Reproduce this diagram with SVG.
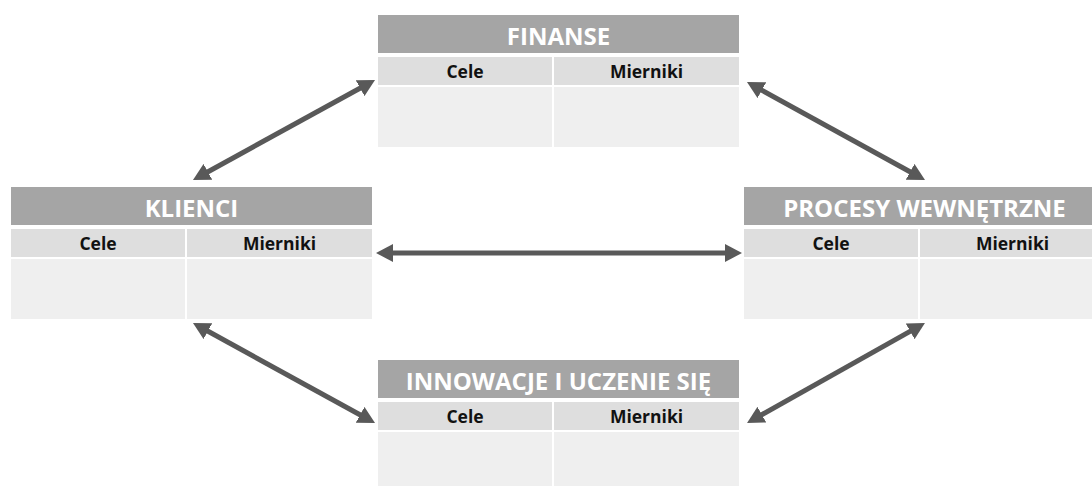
<svg xmlns="http://www.w3.org/2000/svg" width="1092" height="486" viewBox="0 0 1092 486">
  <style>
    .hdr { fill: #a5a5a5; stroke: #ffffff; stroke-width: 2; }
    .sub { fill: #dedede; stroke: #ffffff; stroke-width: 2; }
    .body { fill: #efefef; stroke: #ffffff; stroke-width: 2; }
    .title { font-family: "Open Sans", "Liberation Sans", sans-serif; font-weight: bold; font-size: 24px; fill: #ffffff; text-anchor: middle; }
    .col { font-family: "Open Sans", "Liberation Sans", sans-serif; font-weight: bold; font-size: 17.5px; fill: #111111; text-anchor: middle; }
    .conn { stroke: #595959; stroke-width: 5; fill: none; marker-start: url(#head); marker-end: url(#head); }
  </style>
  <defs>
    <marker id="head" markerUnits="userSpaceOnUse" markerWidth="18" markerHeight="19" refX="5" refY="9" orient="auto-start-reverse" viewBox="0 0 18 18">
      <path d="M0,0 L17,9 L0,18 z" fill="#595959"/>
    </marker>
  </defs>
  <rect width="1092" height="486" fill="#ffffff"/>

  <!-- connectors -->
  <g id="connectors">
    <line class="conn" x1="203.5" y1="174.2" x2="364.5" y2="85.8"/>
    <line class="conn" x1="757.5" y1="87.8" x2="914.5" y2="174.2"/>
    <line class="conn" x1="388" y1="253" x2="730" y2="253"/>
    <line class="conn" x1="203.5" y1="328.8" x2="364.5" y2="417.2"/>
    <line class="conn" x1="757.5" y1="417.1" x2="914.5" y2="328.9"/>
  </g>

  <!-- FINANSE -->
  <g id="finanse" transform="translate(377,14)">
    <rect class="hdr" x="0" y="0" width="363" height="40"/>
    <rect class="sub" x="0" y="42" width="176" height="30"/>
    <rect class="sub" x="176" y="42" width="187" height="30"/>
    <rect class="body" x="0" y="72" width="176" height="62"/>
    <rect class="body" x="176" y="72" width="187" height="62"/>
    <text class="title" x="181.5" y="31">FINANSE</text>
    <text class="col" x="88" y="64">Cele</text>
    <text class="col" x="269.5" y="64">Mierniki</text>
  </g>

  <!-- KLIENCI -->
  <g id="klienci" transform="translate(10,186)">
    <rect class="hdr" x="0" y="0" width="363" height="40"/>
    <rect class="sub" x="0" y="42" width="176" height="30"/>
    <rect class="sub" x="176" y="42" width="187" height="30"/>
    <rect class="body" x="0" y="72" width="176" height="62"/>
    <rect class="body" x="176" y="72" width="187" height="62"/>
    <text class="title" x="181.5" y="31">KLIENCI</text>
    <text class="col" x="88" y="64">Cele</text>
    <text class="col" x="269.5" y="64">Mierniki</text>
  </g>

  <!-- PROCESY WEWNĘTRZNE -->
  <g id="procesy" transform="translate(743,186)">
    <rect class="hdr" x="0" y="0" width="363" height="40"/>
    <rect class="sub" x="0" y="42" width="176" height="30"/>
    <rect class="sub" x="176" y="42" width="187" height="30"/>
    <rect class="body" x="0" y="72" width="176" height="62"/>
    <rect class="body" x="176" y="72" width="187" height="62"/>
    <text class="title" x="181.5" y="31">PROCESY WEWNĘTRZNE</text>
    <text class="col" x="88" y="64">Cele</text>
    <text class="col" x="269.5" y="64">Mierniki</text>
  </g>

  <!-- INNOWACJE I UCZENIE SIĘ -->
  <g id="innowacje" transform="translate(377,359)">
    <rect class="hdr" x="0" y="0" width="363" height="40"/>
    <rect class="sub" x="0" y="42" width="176" height="30"/>
    <rect class="sub" x="176" y="42" width="187" height="30"/>
    <rect class="body" x="0" y="72" width="176" height="62"/>
    <rect class="body" x="176" y="72" width="187" height="62"/>
    <text class="title" x="181.5" y="31">INNOWACJE I UCZENIE SIĘ</text>
    <text class="col" x="88" y="64">Cele</text>
    <text class="col" x="269.5" y="64">Mierniki</text>
  </g>
</svg>
